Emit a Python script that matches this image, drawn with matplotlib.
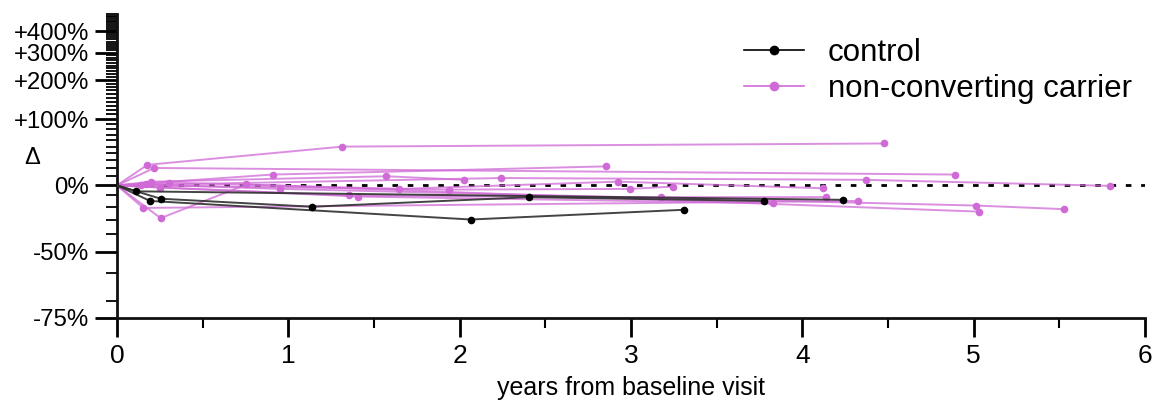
import matplotlib.pyplot as plt
import numpy as np
from matplotlib.ticker import FixedLocator, MultipleLocator, NullFormatter

plt.rcParams['font.family'] = ['Liberation Sans', 'DejaVu Sans']

# years from baseline, % change vs baseline (each subject starts at 0, 0)
control_t = [
    [0.111, 4.238],
    [0.193, 2.065, 3.310],
    [0.255, 1.138, 2.405, 3.777],
]
control_v = [
    [-6, -14],
    [-15, -30, -22.5],
    [-13, -20, -11.6, -15],
]

carrier_t = [
    [0.178, 1.316, 4.476],
    [0.218, 4.892],
    [0.908, 2.852],
    [0.201, 1.573, 2.026],
    [2.243, 4.371, 5.794],
    [0.305, 1.648, 2.926, 4.123],
    [0.169, 0.954, 5.015, 5.528],
    [0.140, 1.939, 2.995, 3.248],
    [0.251, 1.353, 3.173, 4.139],
    [1.407, 3.828],
    [0.154, 4.322],
    [0.255, 0.756, 5.032],
]
carrier_v = [
    [24, 50, 55],
    [20, 12],
    [12, 22],
    [4, 10, 6],
    [8, 6, -0.5],
    [3, -3.6, 4, -3],
    [1, -3.6, -19, -22],
    [0, -4.3, -3.6, -1.2],
    [-2.3, -10, -11.6, -11.5],
    [-11, -17],
    [-21, -15],
    [-29, 1, -24],
]

ytick_vals = [-75, -50, 0, 100, 200, 300, 400]
ytick_labels = ['-75%', '-50%', '0%', '+100%', '+200%', '+300%', '+400%']

magenta = '#d06ad6'

fig = plt.figure(figsize=(11.58, 4.04), dpi=100)
ax = fig.add_axes([0.101, 0.2129, 0.8878, 0.7524])


def ratio(v):
    return 1 + np.array(v) / 100.0


for t, v in zip(carrier_t, carrier_v):
    ax.plot([0] + t, ratio([0] + v), '-', color=magenta, lw=1.4, alpha=0.75, zorder=2)
    ax.plot(t, ratio(v), 'o', color=magenta, ms=5.5, mec='none', zorder=3)
for t, v in zip(control_t, control_v):
    ax.plot([0] + t, ratio([0] + v), '-', color='#303030', lw=1.4, alpha=0.9, zorder=4)
    ax.plot(t, ratio(v), 'o', color='black', ms=5.5, mec='none', zorder=5)

ax.axhline(1, color='black', lw=2, ls=(0, (2, 3.5)), zorder=1)

# legend proxies
ax.plot([], [], '-o', color='black', lw=1.2, ms=6, label='control')
ax.plot([], [], '-o', color=magenta, lw=1.2, ms=7, mec='none', label='non-converting carrier')
ax.legend(loc='upper left', bbox_to_anchor=(0.583, 1.015), frameon=False, fontsize=22.5,
          handlelength=1.9, handletextpad=0.77, labelspacing=0.2)

ax.set_yscale('log', base=2)
ax.set_ylim(0.25, 6)
ax.set_xlim(0, 6)
ax.yaxis.set_major_locator(FixedLocator(ratio(ytick_vals)))
ax.set_yticklabels(ytick_labels)
minor = [m for m in np.round(np.arange(0.3, 6.01, 0.1), 2) if m not in (0.5, 1, 2, 3, 4, 5)]
ax.yaxis.set_minor_locator(FixedLocator(minor))
ax.yaxis.set_minor_formatter(NullFormatter())
ax.xaxis.set_major_locator(MultipleLocator(1))
ax.xaxis.set_minor_locator(MultipleLocator(0.5))

for s in ['top', 'right']:
    ax.spines[s].set_visible(False)
for s in ['left', 'bottom']:
    ax.spines[s].set_linewidth(2)
    ax.spines[s].set_color('#111111')

ax.tick_params(axis='y', which='major', length=16, width=2, labelsize=17.3, pad=4)
ax.tick_params(axis='y', which='minor', length=8, width=1.3)
ax.tick_params(axis='x', which='major', length=14, width=2, labelsize=19, pad=5)
ax.tick_params(axis='x', which='minor', length=7, width=1.5)

ax.set_ylabel('Δ', rotation=0, fontsize=17)
ax.yaxis.set_label_coords(-0.082, 0.49)
ax.set_xlabel('years from baseline visit', fontsize=18)
ax.xaxis.set_label_coords(0.5, -0.19)

fig.savefig('out.png', dpi=100)
